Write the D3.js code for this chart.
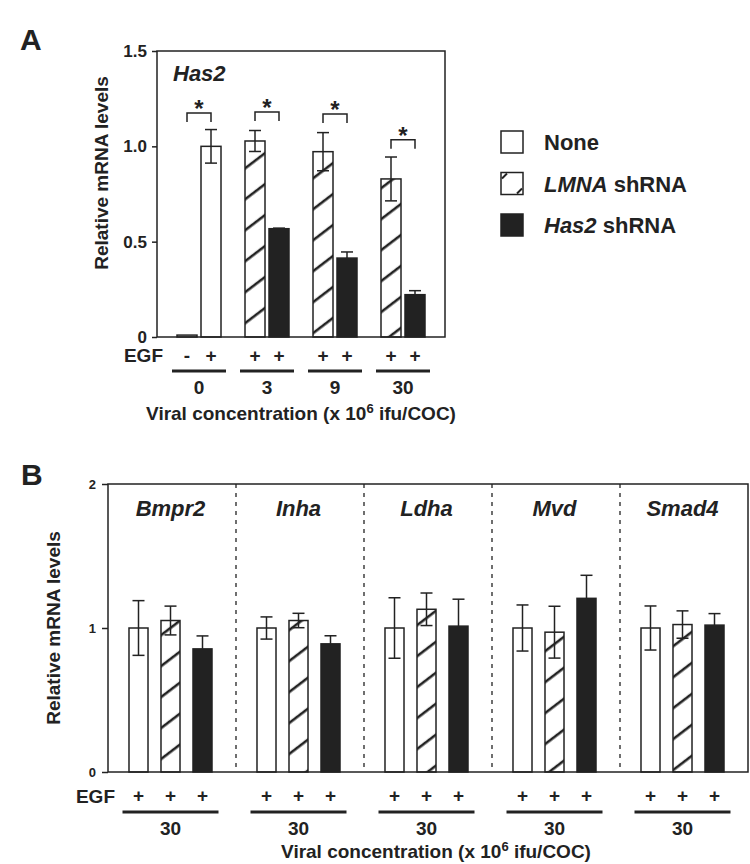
<!DOCTYPE html>
<html><head><meta charset="utf-8">
<script src="https://cdn.jsdelivr.net/npm/d3@7"></script>
<style>
body{margin:0;background:#fff;}
text{font-family:"Liberation Sans",Arial,Helvetica,sans-serif;font-weight:bold;fill:#222;}
</style></head>
<body><svg id="c" width="750" height="864"></svg>
<script>
// ---------- Panel A data ----------
const aGroups = ["0","3","9","30"];
const aEGF = [["-","+"],["+","+"],["+","+"],["+","+"]];
const aTypes = [["none","none"],["lmna","has2"],["lmna","has2"],["lmna","has2"]];
const aValues = [[0.01,1.0],[1.028,0.568],[0.972,0.414],[0.829,0.222]];
const aErrors = [[0,0.088],[0.055,0.003],[0.10,0.032],[0.115,0.021]];
const aSigY = [1.175,1.18,1.17,1.035];
const aTicks = [0,0.5,1.0,1.5];
const aTickLabels = ["0","0.5","1.0","1.5"];

// ---------- Panel B data ----------
const bGenes = ["Bmpr2","Inha","Ldha","Mvd","Smad4"];
const bTypes = ["none","lmna","has2"];
const bValues = [
  [1.0,1.052,0.855],
  [1.0,1.052,0.89],
  [1.0,1.13,1.013],
  [1.0,0.971,1.206],
  [1.0,1.024,1.02]
];
const bErrors = [
  [0.19,0.10,0.09],
  [0.077,0.05,0.056],
  [0.21,0.113,0.187],
  [0.16,0.18,0.16],
  [0.153,0.095,0.08]
];
const bConc = ["30","30","30","30","30"];
const bTicks = [0,1,2];

const legendItems = [["none","None",""],["lmna","LMNA"," shRNA"],["has2","Has2"," shRNA"]];

const ink = "#222";
const svg = d3.select("#c");
const defs = svg.append("defs");
const pat = defs.append("pattern").attr("id","hatch").attr("patternUnits","userSpaceOnUse")
  .attr("width",10).attr("height",24.6).attr("patternTransform","rotate(-37.4)");
pat.append("rect").attr("width",10).attr("height",24.6).attr("fill","#fff");
pat.append("line").attr("x1",0).attr("x2",10).attr("y1",12).attr("y2",12).attr("stroke",ink).attr("stroke-width",2.6);

function fillOf(t){ return t==="none" ? "#fff" : t==="lmna" ? "url(#hatch)" : ink; }

// ================= Panel A =================
const aX0 = 157, aX1 = 445, aY0 = 51, aY1 = 337;
const ay = d3.scaleLinear().domain([0,1.5]).range([aY1,aY0]);
const ax = d3.scaleBand().domain(aGroups).range([aX0,aX1]).paddingInner(0).paddingOuter(8/68);
const axIn = d3.scaleBand().domain([0,1]).range([-24,24]).paddingInner(1/6).paddingOuter(1/12);
const gA = svg.append("g");

svg.append("text").attr("x",20).attr("y",50).style("font-size","30px").text("A");

gA.append("g").attr("transform",`translate(${aX0},0)`)
  .call(d3.axisLeft(ay).tickValues(aTicks).tickSize(5).tickPadding(5).tickFormat((d,i)=>aTickLabels[i]))
  .call(g=>{g.select(".domain").remove(); g.selectAll("line").attr("stroke",ink).attr("stroke-width",1.5);
    g.selectAll("text").attr("fill",ink).style("font-size","17px").style("font-family",null);});

aGroups.forEach((grp,gi)=>{
  const cx = ax(grp)+ax.bandwidth()/2;
  aValues[gi].forEach((v,bi)=>{
    const x = cx+axIn(bi), w = axIn.bandwidth(), t = aTypes[gi][bi];
    gA.append("rect").attr("x",x).attr("y",ay(v)).attr("width",w).attr("height",aY1-ay(v))
      .attr("fill",fillOf(t)).attr("stroke",ink).attr("stroke-width",1.5);
    const e = aErrors[gi][bi];
    if(e>0){
      const xm = x+w/2, lo = t==="has2" ? v : v-e;
      gA.append("line").attr("x1",xm).attr("x2",xm).attr("y1",ay(lo)).attr("y2",ay(v+e)).attr("stroke",ink).attr("stroke-width",1.5);
      gA.append("line").attr("x1",xm-6).attr("x2",xm+6).attr("y1",ay(v+e)).attr("y2",ay(v+e)).attr("stroke",ink).attr("stroke-width",1.5);
      if(t!=="has2") gA.append("line").attr("x1",xm-6).attr("x2",xm+6).attr("y1",ay(lo)).attr("y2",ay(lo)).attr("stroke",ink).attr("stroke-width",1.5);
    }
    gA.append("text").attr("x",x+w/2).attr("y",362).attr("text-anchor","middle").style("font-size","19px").text(aEGF[gi][bi]);
  });
  // significance bracket
  const c1 = cx+axIn(0)+axIn.bandwidth()/2, c2 = cx+axIn(1)+axIn.bandwidth()/2;
  const yt = ay(aSigY[gi]);
  gA.append("path").attr("d",`M${c1},${yt+9}V${yt}H${c2}V${yt+9}`).attr("fill","none").attr("stroke",ink).attr("stroke-width",1.5);
  gA.append("text").attr("x",cx).attr("y",yt+4).attr("text-anchor","middle").style("font-size","24px").text("*");
  // group underline + label
  gA.append("line").attr("x1",cx-27).attr("x2",cx+27).attr("y1",371).attr("y2",371).attr("stroke",ink).attr("stroke-width",3);
  gA.append("text").attr("x",cx).attr("y",394).attr("text-anchor","middle").style("font-size","19px").text(grp);
});
gA.append("rect").attr("x",aX0).attr("y",aY0).attr("width",aX1-aX0).attr("height",aY1-aY0).attr("fill","none").attr("stroke",ink).attr("stroke-width",1.5);
gA.append("text").attr("x",173).attr("y",81).style("font-size","22px").style("font-style","italic").text("Has2");
gA.append("text").attr("x",163).attr("y",362).attr("text-anchor","end").style("font-size","19px").text("EGF");
gA.append("text").attr("transform","translate(108,173) rotate(-90)").attr("text-anchor","middle").style("font-size","19px").text("Relative mRNA levels");
function viral(sel,x,y){
  const t = sel.append("text").attr("x",x).attr("y",y).attr("text-anchor","middle").style("font-size","19px");
  t.append("tspan").text("Viral concentration (x 10");
  t.append("tspan").attr("dy",-7).style("font-size","13px").text("6");
  t.append("tspan").attr("dy",7).text(" ifu/COC)");
}
viral(gA,301,420);

// legend
const lg = svg.append("g");
legendItems.forEach((it,i)=>{
  const y = 131 + i*41.5;
  lg.append("rect").attr("x",501).attr("y",y).attr("width",22).attr("height",22)
    .attr("fill",it[0]==="has2"?ink:"#fff").attr("stroke",ink).attr("stroke-width",1.5);
  if(it[0]==="lmna"){
    lg.append("line").attr("x1",502).attr("y1",y+6).attr("x2",507).attr("y2",y+1).attr("stroke",ink).attr("stroke-width",2);
    lg.append("line").attr("x1",517).attr("y1",y+21).attr("x2",522).attr("y2",y+16).attr("stroke",ink).attr("stroke-width",2);
  }
  const t = lg.append("text").attr("x",544).attr("y",y+19).style("font-size","22px");
  t.append("tspan").style("font-style",it[0]==="none"?"normal":"italic").text(it[1]);
  if(it[2]) t.append("tspan").text(it[2]);
});

// ================= Panel B =================
const bX0 = 108, bX1 = 748, bY0 = 484, bY1 = 772;
const by = d3.scaleLinear().domain([0,2]).range([bY1,bY0]);
const bx = d3.scaleBand().domain(bGenes).range([bX0,bX1]).padding(0);
const bxIn = d3.scaleBand().domain(bTypes).range([-48,48]).paddingInner(0.406).paddingOuter(0.203);
const gB = svg.append("g");
svg.append("text").attr("x",21).attr("y",485).style("font-size","30px").text("B");

gB.append("g").attr("transform",`translate(${bX0},0)`)
  .call(d3.axisLeft(by).tickValues(bTicks).tickSize(6).tickPadding(6).tickFormat(d3.format("d")))
  .call(g=>{g.select(".domain").remove(); g.selectAll("line").attr("stroke",ink).attr("stroke-width",1.5);
    g.selectAll("text").attr("fill",ink).style("font-size","13px").style("font-family",null);});

bGenes.forEach((gene,gi)=>{
  const cx = bx(gene)+bx.bandwidth()/2 - 1.5;
  if(gi>0) gB.append("line").attr("x1",bx(gene)).attr("x2",bx(gene)).attr("y1",bY0).attr("y2",bY1)
    .attr("stroke",ink).attr("stroke-width",1.3).attr("stroke-dasharray","4,5");
  bTypes.forEach((t,bi)=>{
    const v = bValues[gi][bi], e = bErrors[gi][bi];
    const x = cx+bxIn(t), w = bxIn.bandwidth(), xm = x+w/2;
    gB.append("rect").attr("x",x).attr("y",by(v)).attr("width",w).attr("height",bY1-by(v))
      .attr("fill",fillOf(t)).attr("stroke",ink).attr("stroke-width",1.5);
    const lo = t==="has2" ? v : v-e;
    gB.append("line").attr("x1",xm).attr("x2",xm).attr("y1",by(lo)).attr("y2",by(v+e)).attr("stroke",ink).attr("stroke-width",1.5);
    gB.append("line").attr("x1",xm-6).attr("x2",xm+6).attr("y1",by(v+e)).attr("y2",by(v+e)).attr("stroke",ink).attr("stroke-width",1.5);
    if(t!=="has2") gB.append("line").attr("x1",xm-6).attr("x2",xm+6).attr("y1",by(lo)).attr("y2",by(lo)).attr("stroke",ink).attr("stroke-width",1.5);
    gB.append("text").attr("x",xm).attr("y",802).attr("text-anchor","middle").style("font-size","19px").text("+");
  });
  gB.append("text").attr("x",cx).attr("y",516).attr("text-anchor","middle").style("font-size","22px").style("font-style","italic").text(gene);
  gB.append("line").attr("x1",cx-48).attr("x2",cx+48).attr("y1",812).attr("y2",812).attr("stroke",ink).attr("stroke-width",3);
  gB.append("text").attr("x",cx).attr("y",835).attr("text-anchor","middle").style("font-size","19px").text(bConc[gi]);
});
gB.append("rect").attr("x",bX0).attr("y",bY0).attr("width",bX1-bX0).attr("height",bY1-bY0).attr("fill","none").attr("stroke",ink).attr("stroke-width",1.5);
gB.append("text").attr("x",115).attr("y",803).attr("text-anchor","end").style("font-size","19px").text("EGF");
gB.append("text").attr("transform","translate(60,628) rotate(-90)").attr("text-anchor","middle").style("font-size","19px").text("Relative mRNA levels");
viral(gB,436,858);
</script></body></html>
